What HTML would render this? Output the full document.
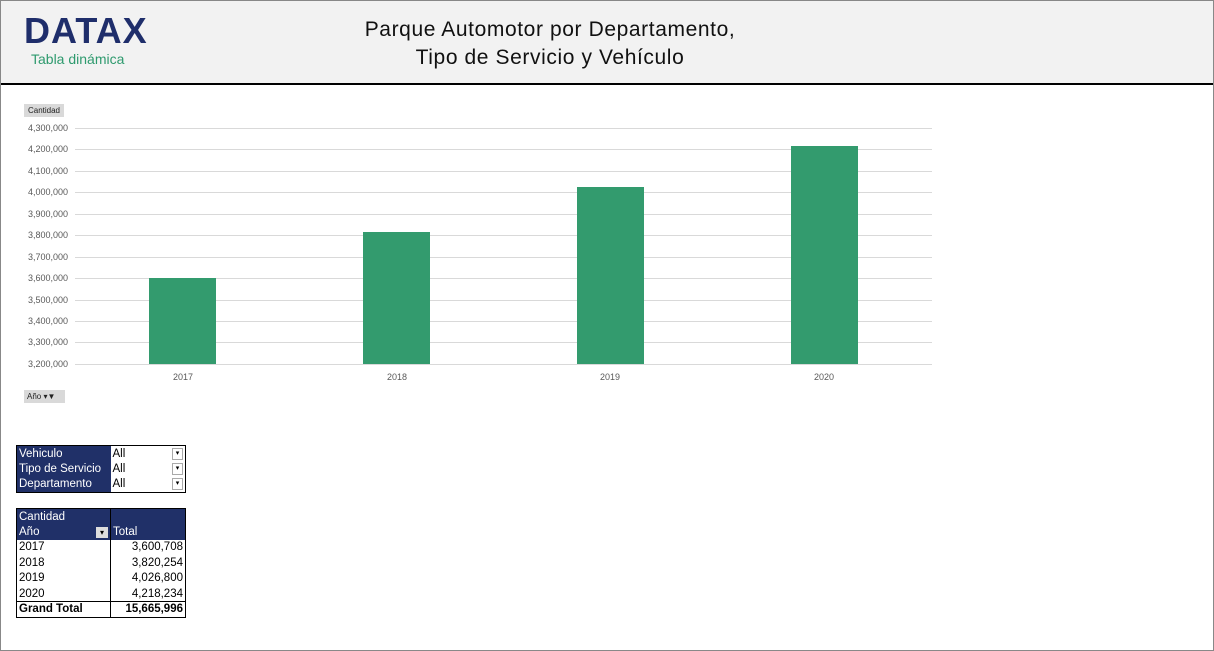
<!DOCTYPE html>
<html><head><meta charset="utf-8"><style>
*{margin:0;padding:0;box-sizing:border-box}
body{width:1214px;height:651px;background:#fff;font-family:"Liberation Sans",sans-serif;position:relative;overflow:hidden}
.frame{position:absolute;left:0;top:0;width:1214px;height:651px;border:1px solid #888}
.hdr{position:absolute;left:1px;top:1px;width:1212px;height:84px;background:#f2f2f2;border-bottom:2px solid #000}
.abs{position:absolute}
.yl{position:absolute;left:20px;width:48px;text-align:right;font-size:9px;color:#595959}
.gl{position:absolute;left:75px;width:857px;height:1px;background:#d9d9d9}
.bar{position:absolute;background:#339b6e;width:67px}
.xl{position:absolute;top:372px;font-size:9px;color:#595959;width:60px;text-align:center}
table{border-collapse:collapse;font-size:11.5px;position:absolute;left:16px}
td{height:15.5px;line-height:14px;padding:0 2px;white-space:nowrap}
.d{background:#203068;color:#fff}
</style></head><body>
<div class="hdr"></div>
<div class="abs" style="left:24px;top:10px;font-size:36px;font-weight:bold;color:#1f2e6b;letter-spacing:1px;line-height:42px">DATAX</div>
<div class="abs" style="left:31px;top:51px;font-size:14px;color:#2e9a6e">Tabla dinámica</div>
<div class="abs" style="left:300px;top:16px;width:500px;text-align:center;font-size:21px;letter-spacing:0.6px;line-height:28px;color:#111">Parque Automotor por Departamento,<br>Tipo de Servicio y Vehículo</div>
<div class="abs" style="left:24px;top:104px;width:40px;height:13px;background:#d9d9d9;font-size:8px;line-height:13px;text-align:center;color:#222">Cantidad</div>
<div class="gl" style="top:128px"></div><div class="yl" style="top:123px">4,300,000</div>
<div class="gl" style="top:149px"></div><div class="yl" style="top:144px">4,200,000</div>
<div class="gl" style="top:171px"></div><div class="yl" style="top:166px">4,100,000</div>
<div class="gl" style="top:192px"></div><div class="yl" style="top:187px">4,000,000</div>
<div class="gl" style="top:214px"></div><div class="yl" style="top:209px">3,900,000</div>
<div class="gl" style="top:235px"></div><div class="yl" style="top:230px">3,800,000</div>
<div class="gl" style="top:257px"></div><div class="yl" style="top:252px">3,700,000</div>
<div class="gl" style="top:278px"></div><div class="yl" style="top:273px">3,600,000</div>
<div class="gl" style="top:300px"></div><div class="yl" style="top:295px">3,500,000</div>
<div class="gl" style="top:321px"></div><div class="yl" style="top:316px">3,400,000</div>
<div class="gl" style="top:342px"></div><div class="yl" style="top:337px">3,300,000</div>
<div class="gl" style="top:364px"></div><div class="yl" style="top:359px">3,200,000</div>
<div class="bar" style="left:149px;top:278px;height:86px"></div>
<div class="bar" style="left:363px;top:232px;height:132px"></div>
<div class="bar" style="left:577px;top:187px;height:177px"></div>
<div class="bar" style="left:791px;top:146px;height:218px"></div>
<div class="xl" style="left:153px">2017</div>
<div class="xl" style="left:367px">2018</div>
<div class="xl" style="left:580px">2019</div>
<div class="xl" style="left:794px">2020</div>
<div class="abs" style="left:24px;top:390px;width:41px;height:13px;background:#d9d9d9;font-size:8px;line-height:13px;padding-left:3px;color:#222">Año ▾▼</div>
<table style="top:445px;border:1px solid #000">
<tr><td class="d" style="width:94px">Vehiculo</td><td style="width:75px">All <span style="float:right;font-size:7px;border:1px solid #aaa;width:11px;text-align:center;margin-top:1px;line-height:10px">▾</span></td></tr>
<tr><td class="d">Tipo de Servicio</td><td>All <span style="float:right;font-size:7px;border:1px solid #aaa;width:11px;text-align:center;margin-top:1px;line-height:10px">▾</span></td></tr>
<tr><td class="d">Departamento</td><td>All <span style="float:right;font-size:7px;border:1px solid #aaa;width:11px;text-align:center;margin-top:1px;line-height:10px">▾</span></td></tr>
</table>
<table style="top:508px;border:1px solid #000">
<tr><td class="d" style="width:94px;border-right:1px solid #000">Cantidad</td><td class="d" style="width:75px"></td></tr>
<tr><td class="d" style="border-right:1px solid #000">Año<span style="float:right;background:#ddd;color:#000;font-size:8px;width:12px;text-align:center;margin-top:2px;line-height:11px">▾</span></td><td class="d">Total</td></tr>
<tr><td style="border-right:1px solid #000">2017</td><td style="text-align:right">3,600,708</td></tr>
<tr><td style="border-right:1px solid #000">2018</td><td style="text-align:right">3,820,254</td></tr>
<tr><td style="border-right:1px solid #000">2019</td><td style="text-align:right">4,026,800</td></tr>
<tr><td style="border-right:1px solid #000">2020</td><td style="text-align:right">4,218,234</td></tr>
<tr style="border-top:1px solid #000;font-weight:bold"><td style="border-right:1px solid #000">Grand Total</td><td style="text-align:right">15,665,996</td></tr>
</table>
<div class="frame"></div>
</body></html>
